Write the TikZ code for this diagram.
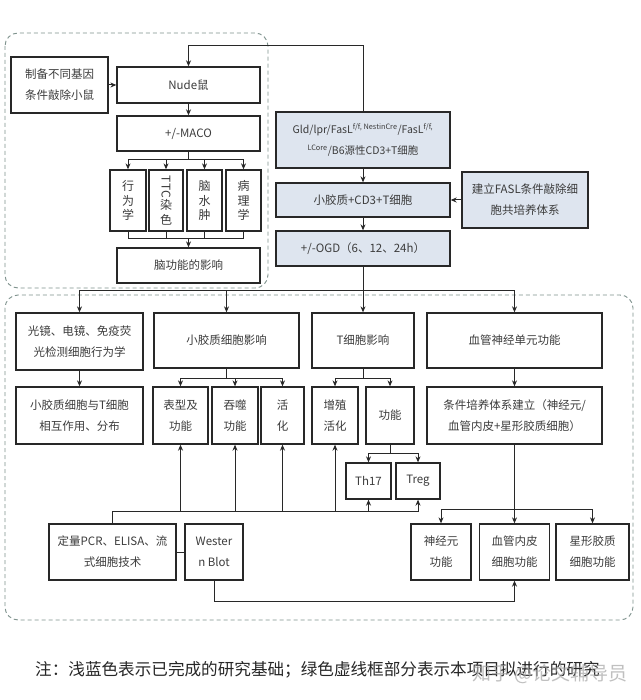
\documentclass[tikz,border=0pt]{standalone}
\usepackage{fontspec}
\setmainfont{Noto Sans CJK SC}
\usepackage{graphicx}
\usetikzlibrary{arrows.meta}
\definecolor{lblue}{RGB}{222,229,239}
\definecolor{dashc}{RGB}{125,145,140}
\definecolor{linec}{RGB}{40,40,40}
\definecolor{txtc}{RGB}{60,60,60}
\begin{document}
\begin{tikzpicture}[x=1pt,y=-1pt,
  box/.style={draw=linec, line width=1.3pt, fill=white, align=center, inner sep=1pt,
    text=txtc, font=\fontsize{11.5}{21}\selectfont},
  bluebox/.style={box, fill=lblue},
  vbox/.style={box, font=\fontsize{12}{14.5}\selectfont},
  conn/.style={draw=linec, line width=1pt},
  arr/.style={conn, -{Stealth[length=6pt,width=5pt]}},
  dashbox/.style={draw=dashc, line width=0.9pt, dash pattern=on 4pt off 3pt, rounded corners=13pt}]
\useasboundingbox (0,0) rectangle (640,700);
\fill[white] (0,0) rectangle (640,700);
% dashed frames
\draw[dashbox] (5,33) rectangle (268,288);
\draw[dashbox] (5,295) rectangle (633,620);
% top-left part
\node[box, minimum width=97, minimum height=56] (prep) at (59.5,85) {制备不同基因\\条件敲除小鼠};
\node[box, minimum width=143, minimum height=36] (nude) at (188.5,85) {Nude鼠};
\node[box, minimum width=143, minimum height=35] (maco) at (188.5,133.5) {+/-MACO};
\node[vbox, minimum width=36, minimum height=61] (v1) at (128,200.5) {行\\为\\学};
\node[vbox, minimum width=34, minimum height=61] (v2) at (166,200.5) {\raisebox{8pt}{\rotatebox{-90}{TTC}}\\[1pt]染\\色};
\node[vbox, minimum width=35, minimum height=61] (v3) at (204.5,200.5) {脑\\水\\肿};
\node[vbox, minimum width=35, minimum height=61] (v4) at (243.5,200.5) {病\\理\\学};
\node[box, minimum width=143, minimum height=35] (brain) at (188.5,265.5) {脑功能的影响};
% blue column
\node[bluebox, minimum width=174, minimum height=56, font=\fontsize{10.5}{21}\selectfont] (gld) at (363,140)
  {Gld/lpr/FasL\textsuperscript{f/f, NestinCre}/FasL\textsuperscript{f/f,}\\\textsuperscript{LCore}/B6源性CD3+T细胞};
\node[bluebox, minimum width=174, minimum height=34] (mcd3) at (363,200) {小胶质+CD3+T细胞};
\node[bluebox, minimum width=174, minimum height=35] (ogd) at (363,248.5) {+/-OGD（6、12、24h）};
\node[bluebox, minimum width=126, minimum height=56] (fasl) at (525,200) {建立FASL条件敲除细\\胞共培养体系};
% row 1
\node[box, minimum width=127, minimum height=57] (r1a) at (79.5,341.5) {光镜、电镜、免疫荧\\光检测细胞行为学};
\node[box, minimum width=145, minimum height=55] (r1b) at (226.5,340.5) {小胶质细胞影响};
\node[box, minimum width=102, minimum height=55] (r1c) at (363,340.5) {T细胞影响};
\node[box, minimum width=175, minimum height=55] (r1d) at (514.5,340.5) {血管神经单元功能};
% row 2
\node[box, minimum width=127, minimum height=57] (r2a) at (79.5,415.5) {小胶质细胞与T细胞\\相互作用、分布};
\node[box, minimum width=55, minimum height=57] (r2b) at (180.5,415.5) {表型及\\功能};
\node[box, minimum width=46, minimum height=57] (r2c) at (235,415.5) {吞噬\\功能};
\node[box, minimum width=43, minimum height=57] (r2d) at (282.5,415.5) {活\\化};
\node[box, minimum width=46, minimum height=57] (r2e) at (335,415.5) {增殖\\活化};
\node[box, minimum width=48, minimum height=57] (r2f) at (390,415.5) {功能};
\node[box, minimum width=175, minimum height=57] (r2g) at (514.5,415.5) {条件培养体系建立（神经元/\\血管内皮+星形胶质细胞）};
\node[box, minimum width=45, minimum height=36] (th17) at (368.5,481) {Th17};
\node[box, minimum width=44, minimum height=36] (treg) at (418,481) {Treg};
% bottom row
\node[box, minimum width=127, minimum height=56] (pcr) at (112.5,552) {定量PCR、ELISA、流\\式细胞技术};
\node[box, minimum width=58, minimum height=56] (wb) at (214,552) {Wester\\n Blot};
\node[box, minimum width=60, minimum height=56] (neu) at (441,552) {神经元\\功能};
\node[box, minimum width=70, minimum height=56] (endo) at (514.5,552) {血管内皮\\细胞功能};
\node[box, minimum width=73, minimum height=56] (astro) at (592.5,552) {星形胶质\\细胞功能};
% connectors top-left
\draw[arr] (prep.east) -- (nude.west);
\draw[arr] (nude.south) -- (maco.north);
\coordinate (mb) at (188.5,160);
\draw[conn] (maco.south) -- (mb);
\draw[arr] (mb) -| (v1.north);
\draw[arr] (mb) -| (v2.north);
\draw[arr] (mb) -| (v3.north);
\draw[arr] (mb) -| (v4.north);
\coordinate (vb) at (188.5,239);
\draw[conn] (v1.south) |- (vb);
\draw[conn] (v2.south) |- (vb);
\draw[conn] (v3.south) |- (vb);
\draw[conn] (v4.south) |- (vb);
\draw[arr] (vb) -- (brain.north);
% blue column
\coordinate (tb) at (363,46);
\draw[arr] (gld.north) -- (tb) -| (nude.north);
\draw[arr] (gld.south) -- (mcd3.north);
\draw[arr] (mcd3.south) -- (ogd.north);
\draw[arr] (fasl.west) -- (mcd3.east);
\coordinate (hb) at (363,290);
\draw[conn] (ogd.south) -- (hb);
\draw[arr] (hb) -| (r1a.north);
\draw[arr] (hb) -| (r1b.north);
\draw[arr] (hb) -- (r1c.north);
\draw[arr] (hb) -| (r1d.north);
% row 1 -> row 2
\draw[arr] (r1a.south) -- (r2a.north);
\coordinate (b1) at (226.5,378);
\draw[conn] (r1b.south) -- (b1);
\draw[arr] (b1) -| (r2b.north);
\draw[arr] (b1) -| (r2c.north);
\draw[arr] (b1) -| (r2d.north);
\coordinate (b2) at (363,378);
\draw[conn] (r1c.south) -- (b2);
\draw[arr] (b2) -| (r2e.north);
\draw[arr] (b2) -| (r2f.north);
\draw[arr] (r1d.south) -- (r2g.north);
\coordinate (b3) at (390,453);
\draw[conn] (r2f.south) -- (b3);
\draw[arr] (b3) -| (th17.north);
\draw[arr] (b3) -| (treg.north);
% g branch
\coordinate (gb) at (514.5,509);
\draw[arr] (r2g.south) -- (endo.north);
\draw[arr] (gb) -| (neu.north);
\draw[arr] (gb) -| (astro.north);
% bottom techniques
\coordinate (bL) at (112.5,511);
\draw[conn] (pcr.north) -- (bL);
\draw[arr] (bL) -| (treg.south);
\draw[arr] (bL) -| (r2b.south);
\draw[arr] (bL) -| (r2c.south);
\draw[arr] (bL) -| (r2d.south);
\draw[arr] (bL) -| (r2e.south);
\draw[arr] (bL) -| (th17.south);
\draw[conn] (pcr.east) -- (wb.west);
\coordinate (wbb) at (214,601);
\draw[arr] (wb.south) -- (wbb) -| (endo.south);
% note
\node[anchor=west, text=black!85, font=\fontsize{16.6}{20}\selectfont, inner sep=0] (note) at (35,670)
  {注：浅蓝色表示已完成的研究基础；绿色虚线框部分表示本项目拟进行的研究};
\node[anchor=west, text=black!35, opacity=0.7, font=\fontsize{19}{22}\selectfont, inner sep=0] (wm) at (472,674)
  {知乎 @论文辅导员};
\end{tikzpicture}
\end{document}
